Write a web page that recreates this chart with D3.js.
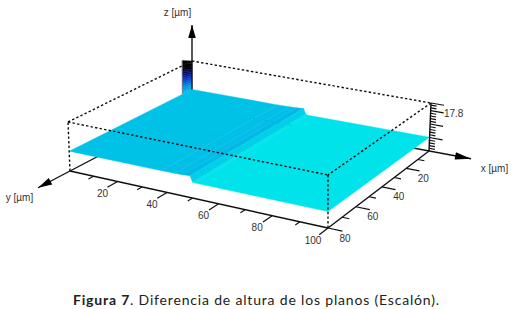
<!DOCTYPE html>
<html>
<head>
<meta charset="utf-8">
<script src="https://cdn.jsdelivr.net/npm/d3@7/dist/d3.min.js"></script>
<style>
  html, body { margin: 0; padding: 0; background: #fff; }
  svg { display: block; }
</style>
</head>
<body>
<div id="chart"></div>
<script>
// values
var uMajor = [20, 40, 60, 80, 100];
var uMinor = [10, 30, 50, 70, 90];
var vMajor = [20, 40, 60, 80];
var vMinor = [10, 30, 50, 70];
var zMajor = [5, 10, 15, 17.8];
var zMinor = [1, 2, 3, 4, 6, 7, 8, 9, 11, 12, 13, 14, 16, 17];
var zLabel = "17.8";

// surface height along u, plus a slow tilt along v
var profileU = [0, 38, 43, 46, 49, 50, 51, 100];
var profileZ = [6.8, 6.85, 6.95, 7.05, 7.25, 5.2, 5.05, 5.1];
var tiltZ = 0.4;

// the spike in the back corner
var spikeV = [0, 7];
var spikeBase = [6.8, 6.85];
var spikeTop = [17.8, 19.8];
var spikeLevels = [0, 0.06, 0.12, 0.18, 0.24, 0.3, 0.36, 0.42, 0.48, 0.54, 0.6, 0.66, 0.72, 0.8, 0.9, 1];

var width = 512, height = 309;
var uMax = 100, vMax = 80, zMax = 17.8;

var svg = d3.select("#chart").append("svg")
  .attr("width", width)
  .attr("height", height);

// soft edges, the reference is a small scanned looking picture
svg.append("filter").attr("id", "soft")
  .append("feGaussianBlur").attr("stdDeviation", 0.35);
var plot = svg.append("g").attr("filter", "url(#soft)");

// corners of the box on screen: back, right, front, left
var baseQuad = [[192, 107], [429, 151], [328, 228], [70, 171]];
var topQuad = [[192, 61], [431, 103], [328, 175], [68, 122]];

// unit square -> quad
function homography(q) {
  var x0 = q[0][0], y0 = q[0][1], x1 = q[1][0], y1 = q[1][1];
  var x2 = q[2][0], y2 = q[2][1], x3 = q[3][0], y3 = q[3][1];
  var dx1 = x1 - x2, dx2 = x3 - x2, dx3 = x0 - x1 + x2 - x3;
  var dy1 = y1 - y2, dy2 = y3 - y2, dy3 = y0 - y1 + y2 - y3;
  var den = dx1 * dy2 - dx2 * dy1;
  var g = (dx3 * dy2 - dx2 * dy3) / den;
  var h = (dx1 * dy3 - dx3 * dy1) / den;
  var a = x1 - x0 + g * x1, b = x3 - x0 + h * x3;
  var d = y1 - y0 + g * y1, e = y3 - y0 + h * y3;
  return function (s, t) {
    var w = g * s + h * t + 1;
    return [(a * s + b * t + x0) / w, (d * s + e * t + y0) / w];
  };
}

var baseH = homography(baseQuad);
var topH = homography(topQuad);
var u = d3.scaleLinear().domain([0, uMax]).range([0, 1]);
var v = d3.scaleLinear().domain([0, vMax]).range([0, 1]);
var z = d3.scaleLinear().domain([0, zMax]).range([0, 1]);

function project(a, b, c) {
  var p = baseH(u(a), v(b));
  var q = topH(u(a), v(b));
  var k = z(c || 0);
  return [p[0] + (q[0] - p[0]) * k, p[1] + (q[1] - p[1]) * k];
}

var color = d3.scaleLinear()
  .domain([5, 5.5, 7, 7.5, 9, 11, 13, 15.5, 17.8])
  .range(["#03e4ea", "#03e0e9", "#04bee7", "#02aee2", "#0090e4", "#0048d8", "#001488", "#000000", "#000000"])
  .clamp(true);

var line = d3.line();

function segment(g, a, b, w) {
  return g.append("path").attr("d", line([a, b]))
    .attr("fill", "none").attr("stroke", "#111").attr("stroke-width", w);
}

function arrow(g, from, tip, size) {
  var dx = tip[0] - from[0], dy = tip[1] - from[1];
  var n = Math.sqrt(dx * dx + dy * dy);
  dx /= n; dy /= n;
  var bx = tip[0] - dx * size, by = tip[1] - dy * size;
  g.append("path")
    .attr("d", line([tip, [bx - dy * 3.8, by + dx * 3.8], [bx + dy * 3.8, by - dx * 3.8]]) + "Z")
    .attr("fill", "#000");
}

var axes = plot.append("g");

// axes that run out of the back corner, the surface covers most of them
var back = project(0, 0, 0);
var xTip = project(116, 0, 0);
var yTip = project(0, 98, 0);
var zTip = [back[0], 25];
segment(axes, back, xTip, 1.4);
segment(axes, back, yTip, 1.4);
arrow(axes, back, xTip, 16);
arrow(axes, back, yTip, 14);

// surface, one strip for each step of the profile
var strips = plot.append("g");
d3.pairs(d3.zip(profileU, profileZ)).forEach(function (p) {
  var a = p[0], b = p[1];
  var f = color((a[1] + b[1]) / 2);
  strips.append("path")
    .attr("d", line([
      project(a[0], 0, a[1]),
      project(b[0], 0, b[1]),
      project(b[0], vMax, b[1] + tiltZ),
      project(a[0], vMax, a[1] + tiltZ)
    ]) + "Z")
    .attr("fill", f)
    .attr("stroke", f)
    .attr("stroke-width", 0.4);
});

// spike, coloured bands up the column
var spike = plot.append("g");
d3.pairs(spikeLevels).forEach(function (p) {
  var zi = function (i, t) { return spikeBase[i] + (spikeTop[i] - spikeBase[i]) * t; };
  var f = color(zi(0, (p[0] + p[1]) / 2));
  spike.append("path")
    .attr("d", line([
      project(0, spikeV[0], zi(0, p[0])),
      project(0, spikeV[1], zi(1, p[0])),
      project(0, spikeV[1], zi(1, p[1])),
      project(0, spikeV[0], zi(0, p[1]))
    ]) + "Z")
    .attr("fill", f)
    .attr("stroke", f)
    .attr("stroke-width", 0.4);
});
segment(spike, project(0, spikeV[1], spikeBase[1]), project(0, spikeV[1], spikeTop[1]), 0.8)
  .attr("stroke", "#777");

// z axis in the back corner
var zAxis = plot.append("g");
segment(zAxis, project(0, 0, spikeBase[0]), zTip, 1.4);
arrow(zAxis, [back[0], 60], zTip, 13);

// dotted box
var box = plot.append("g");
[
  [project(0, vMax, zMax), project(0, 0, zMax)],
  [project(0, 0, zMax), project(uMax, 0, zMax)],
  [project(0, vMax, zMax), project(uMax, vMax, zMax)],
  [project(uMax, 0, zMax), project(uMax, vMax, zMax)],
  [project(0, vMax, 0), project(0, vMax, zMax)],
  [project(uMax, vMax, 0), project(uMax, vMax, zMax)]
].forEach(function (s) {
  segment(box, s[0], s[1], 1.4).attr("stroke-dasharray", "2.4,2.2");
});

// base edges and ticks
var frame = plot.append("g");
segment(frame, project(0, vMax, 0), project(uMax, vMax, 0), 1.4);
segment(frame, project(uMax, 0, 0), project(uMax, vMax, 0), 1.4);
segment(frame, project(uMax, 0, 0), project(uMax, 0, zMax), 1.4);

uMajor.forEach(function (d) { segment(frame, project(d, vMax, 0), project(d, vMax + 6, 0), 1.2); });
uMinor.forEach(function (d) { segment(frame, project(d, vMax, 0), project(d, vMax + 3, 0), 1.1); });
vMajor.forEach(function (d) { segment(frame, project(uMax, d, 0), project(uMax + 5, d, 0), 1.2); });
vMinor.forEach(function (d) { segment(frame, project(uMax, d, 0), project(uMax + 2.5, d, 0), 1.1); });
zMajor.forEach(function (d) { segment(frame, project(uMax, 0, d), project(uMax + 5, 0, d), 1.2); });
zMinor.forEach(function (d) { segment(frame, project(uMax, 0, d), project(uMax + 2.2, 0, d), 1.1); });

// text
var labels = svg.append("g")
  .attr("font-family", "Liberation Sans, Arial, sans-serif")
  .attr("font-size", 10)
  .attr("fill", "#333")
  .attr("text-anchor", "middle")
  .attr("dominant-baseline", "central");

uMajor.forEach(function (d) {
  var p = project(d, vMax, 0);
  labels.append("text").attr("x", p[0] - 15).attr("y", p[1] + 12).text(d);
});
vMajor.forEach(function (d) {
  var p = project(uMax, d, 0);
  labels.append("text").attr("x", p[0] + 17).attr("y", p[1] + 10).text(d);
});
var zl = project(uMax + 5, 0, 15);
labels.append("text").attr("x", zl[0] + 10).attr("y", zl[1] + 1).text(zLabel);

labels.append("text").attr("x", 177.5).attr("y", 12).text("z [µm]");
labels.append("text").attr("x", 494.5).attr("y", 168).text("x [µm]");
labels.append("text").attr("x", 19.5).attr("y", 197).text("y [µm]");

var caption = svg.append("text")
  .attr("x", 73)
  .attr("y", 305)
  .attr("font-family", "Lato, sans-serif")
  .attr("font-size", 14)
  .attr("letter-spacing", 0.82)
  .attr("fill", "#222");
caption.append("tspan").attr("font-weight", "bold").text("Figura 7");
caption.append("tspan").text(". Diferencia de altura de los planos (Escalón).");
</script>
</body>
</html>
